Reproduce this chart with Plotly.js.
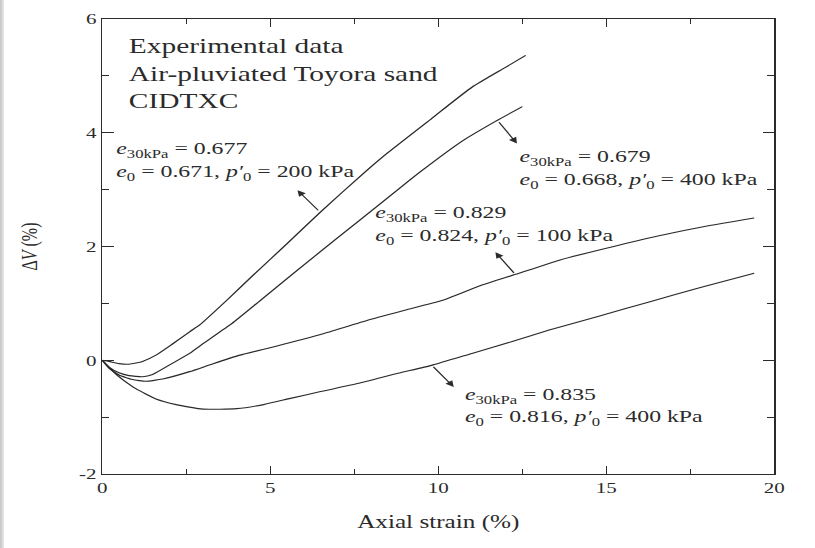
<!DOCTYPE html>
<html>
<head>
<meta charset="utf-8">
<script src="https://cdn.plot.ly/plotly-3.0.1.min.js"></script>
<style>
  html, body { margin: 0; padding: 0; background: #fff; overflow: hidden; }
  #wrap { position: relative; width: 815px; height: 548px; overflow: hidden; }
  /* the reference figure is horizontally stretched; reproduce that by scaling the drawing */
  #chart { position: absolute; left: 0; top: 0; width: 582px; height: 548px; transform: scaleX(1.4003); transform-origin: 0 0; }
  #edge { position: absolute; left: 0; top: 0; width: 4px; height: 548px; background: linear-gradient(to right, #c4c4c4, #e8e8e8); }
</style>
</head>
<body>
<div id="wrap"><div id="chart"></div><div id="edge"></div></div>
<script>
// ---- Data ----
const xA = [0, 0.2, 0.5, 0.8, 1.2, 1.6, 2.1, 2.6, 2.9, 3.7, 4.5, 5.5, 6.5, 7.8, 8.5, 9.8, 11.0, 12.0, 12.6];
const yA = [0, -0.02, -0.06, -0.07, -0.02, 0.09, 0.29, 0.5, 0.62, 1.05, 1.5, 2.05, 2.61, 3.3, 3.65, 4.25, 4.8, 5.15, 5.36];

const xB = [0, 0.2, 0.5, 0.8, 1.2, 1.5, 2.1, 2.6, 2.9, 3.8, 4.7, 5.8, 7.0, 8.0, 8.9, 9.5, 10.7, 11.7, 12.5];
const yB = [0, -0.12, -0.22, -0.27, -0.29, -0.25, -0.05, 0.12, 0.25, 0.62, 1.05, 1.58, 2.15, 2.62, 3.05, 3.33, 3.85, 4.2, 4.46];

const xC = [0, 0.2, 0.5, 0.9, 1.3, 1.8, 2.6, 3.3, 4.1, 5.2, 6.6, 8.0, 9.0, 10.1, 11.2, 12.3, 13.6, 15.0, 16.5, 18.0, 19.4];
const yC = [0, -0.14, -0.26, -0.34, -0.37, -0.33, -0.2, -0.06, 0.09, 0.25, 0.47, 0.72, 0.88, 1.05, 1.3, 1.51, 1.76, 1.97, 2.18, 2.36, 2.5];

const xD = [0, 0.2, 0.4, 0.63, 1.0, 1.6, 2.2, 3.0, 4.0, 4.8, 5.6, 6.5, 7.6, 8.8, 9.8, 11.0, 12.2, 13.3, 14.8, 16.3, 17.8, 19.4];
const yD = [0, -0.12, -0.24, -0.35, -0.5, -0.68, -0.78, -0.86, -0.85, -0.78, -0.67, -0.55, -0.41, -0.23, -0.09, 0.12, 0.33, 0.53, 0.78, 1.03, 1.28, 1.53];

const xTickVals = [0, 5, 10, 15, 20];
const xTickText = ['0', '5', '10', '15', '20'];
const yTickVals = [-2, 0, 2, 4, 6];
const yTickText = ['-2', '0', '2', '4', '6'];

const headerLines = ['Experimental data', 'Air-pluviated Toyora sand', 'CIDTXC'];
const labelA = ['<i>e</i><sub>30kPa</sub> = 0.677', '<i>e</i><sub>0</sub> = 0.671, <i>p\u2032</i><sub>0</sub> = 200 kPa'];
const labelB = ['<i>e</i><sub>30kPa</sub> = 0.679', '<i>e</i><sub>0</sub> = 0.668, <i>p\u2032</i><sub>0</sub> = 400 kPa'];
const labelC = ['<i>e</i><sub>30kPa</sub> = 0.829', '<i>e</i><sub>0</sub> = 0.824, <i>p\u2032</i><sub>0</sub> = 100 kPa'];
const labelD = ['<i>e</i><sub>30kPa</sub> = 0.835', '<i>e</i><sub>0</sub> = 0.816, <i>p\u2032</i><sub>0</sub> = 400 kPa'];

// ---- Styling / layout ----
const FONT = '"Liberation Serif", "Times New Roman", serif';
const INK = '#2b2b2b';
const lineStyle = {color: INK, width: 1.1, shape: 'spline', smoothing: 0.5};

const traces = [[xA, yA], [xB, yB], [xC, yC], [xD, yD]].map(([x, y]) => ({
  x, y, type: 'scatter', mode: 'lines', line: lineStyle, showlegend: false, hoverinfo: 'skip'
}));

const annotations = [];
function addLines(lines, x, ys, size) {
  lines.forEach((t, i) => annotations.push({
    text: t, x: x, y: ys[i], xref: 'x', yref: 'y', xanchor: 'left', yanchor: 'middle',
    showarrow: false, font: {family: FONT, size: size, color: INK}
  }));
}
addLines(headerLines, 0.69, [5.52, 5.03, 4.55], 21);
addLines(labelA, 0.33, [3.69, 3.29], 17);
addLines(labelB, 12.35, [3.55, 3.16], 17);
addLines(labelC, 8.04, [2.58, 2.16], 17);
addLines(labelD, 10.71, [-0.62, -1.02], 17);

// arrows: [headX, headY, tailX, tailY]
const arrows = [[5.81, 2.99, 6.47, 2.61], [12.34, 3.81, 11.77, 4.21], [11.7, 1.9, 12.29, 1.51], [10.46, -0.47, 9.81, -0.09]];
arrows.forEach(a => annotations.push({
  text: '', x: a[0], y: a[1], ax: a[2], ay: a[3], xref: 'x', yref: 'y', axref: 'x', ayref: 'y',
  showarrow: true, arrowhead: 2, arrowsize: 1.2, arrowwidth: 1.0, arrowcolor: INK, standoff: 0, startstandoff: 0
}));

const axisCommon = {
  showline: true, linecolor: INK, linewidth: 1.2, mirror: 'ticks', ticks: 'inside', ticklen: 8,
  tickcolor: INK, tickwidth: 1.1, showgrid: false, zeroline: false,
  tickfont: {family: FONT, size: 15, color: INK}
};

const layout = {
  width: 582, height: 548,
  margin: {l: 73, r: 29, t: 19, b: 74},
  paper_bgcolor: '#fff', plot_bgcolor: '#fff',
  xaxis: Object.assign({}, axisCommon, {
    range: [0, 20], tickmode: 'array', tickvals: xTickVals, ticktext: xTickText,
    minor: {ticks: 'inside', ticklen: 5, dtick: 2.5, tick0: 0, tickcolor: INK, tickwidth: 1.1, showgrid: false},
    title: {text: 'Axial strain (%)', font: {family: FONT, size: 18, color: INK}, standoff: 20}
  }),
  yaxis: Object.assign({}, axisCommon, {
    range: [-2, 6], tickmode: 'array', tickvals: yTickVals, ticktext: yTickText,
    minor: {ticks: 'inside', ticklen: 5, dtick: 1, tick0: 0, tickcolor: INK, tickwidth: 1.1, showgrid: false},
    title: {text: '\u0394<i>V</i> (%)', font: {family: FONT, size: 16, color: INK}, standoff: 25}
  }),
  annotations: annotations
};

Plotly.newPlot('chart', traces, layout, {displayModeBar: false});
</script>
</body>
</html>
